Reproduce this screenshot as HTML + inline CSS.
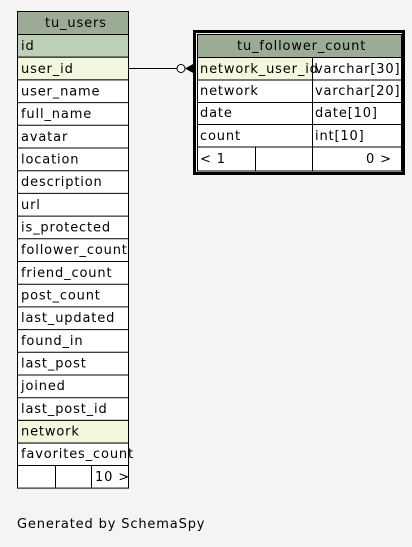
<!DOCTYPE html>
<html><head><style>
html,body{margin:0;padding:0;background:#f4f4f4;}
svg{display:block;}
text{font-family:"DejaVu Sans","Liberation Sans",sans-serif;font-size:13px;fill:#000;letter-spacing:0.85px;}
</style></head><body>
<svg width="412" height="547" viewBox="0 0 412 547" xmlns="http://www.w3.org/2000/svg">
<rect x="0" y="0" width="412" height="547" fill="#f4f4f4"/>
<g stroke="#000" stroke-width="1">
<rect x="17.5" y="11.5" width="111" height="23" fill="#9bab96"/>
<rect x="17.5" y="34.5" width="111" height="22.7" fill="#bed1b8"/>
<rect x="17.5" y="57.2" width="111" height="22.7" fill="#f4f7de"/>
<rect x="17.5" y="79.9" width="111" height="340.5" fill="#ffffff"/>
<rect x="17.5" y="420.4" width="111" height="22.7" fill="#f4f7de"/>
<rect x="17.5" y="443.1" width="111" height="45" fill="#ffffff"/>
</g>
<g stroke="#000" stroke-width="1">
<line x1="17" y1="102.6" x2="128" y2="102.6"/>
<line x1="17" y1="125.3" x2="128" y2="125.3"/>
<line x1="17" y1="148" x2="128" y2="148"/>
<line x1="17" y1="170.7" x2="128" y2="170.7"/>
<line x1="17" y1="193.4" x2="128" y2="193.4"/>
<line x1="17" y1="216.1" x2="128" y2="216.1"/>
<line x1="17" y1="238.8" x2="128" y2="238.8"/>
<line x1="17" y1="261.5" x2="128" y2="261.5"/>
<line x1="17" y1="284.2" x2="128" y2="284.2"/>
<line x1="17" y1="306.9" x2="128" y2="306.9"/>
<line x1="17" y1="329.6" x2="128" y2="329.6"/>
<line x1="17" y1="352.3" x2="128" y2="352.3"/>
<line x1="17" y1="375" x2="128" y2="375"/>
<line x1="17" y1="397.7" x2="128" y2="397.7"/>
<line x1="17" y1="465.5" x2="128" y2="465.5"/>
<line x1="55.5" y1="465.5" x2="55.5" y2="488"/>
<line x1="91.5" y1="465.5" x2="91.5" y2="488"/>
</g>
<text x="45" y="27">tu_users</text>
<text x="21" y="50">id</text>
<text x="21" y="73">user_id</text>
<text x="21" y="95.5">user_name</text>
<text x="21" y="118">full_name</text>
<text x="21" y="141">avatar</text>
<text x="21" y="163.5">location</text>
<text x="21" y="186">description</text>
<text x="21" y="209">url</text>
<text x="21" y="231.5">is_protected</text>
<text x="21" y="254">follower_count</text>
<text x="21" y="277">friend_count</text>
<text x="21" y="299.5">post_count</text>
<text x="21" y="322">last_updated</text>
<text x="21" y="345">found_in</text>
<text x="21" y="367.5">last_post</text>
<text x="21" y="390">joined</text>
<text x="21" y="413">last_post_id</text>
<text x="21" y="435.5">network</text>
<text x="21" y="458">favorites_count</text>
<text x="95" y="481">10 &gt;</text>
<line x1="128" y1="68.5" x2="177" y2="68.5" stroke="#000" stroke-width="1"/>
<circle cx="181" cy="68.5" r="4" fill="#fff" stroke="#000" stroke-width="1"/>
<polygon points="185,68.5 194,63.5 194,73.5" fill="#000"/>
<rect x="194.5" y="31.5" width="209" height="142" fill="none" stroke="#000" stroke-width="3"/>
<g stroke="#000" stroke-width="1">
<rect x="197.5" y="34.5" width="204" height="23" fill="#9bab96"/>
<rect x="197.5" y="57.5" width="115" height="22.5" fill="#f4f7de"/>
<rect x="312.5" y="57.5" width="89" height="22.5" fill="#ffffff"/>
<rect x="197.5" y="80" width="204" height="91" fill="#ffffff"/>
<line x1="197" y1="102.5" x2="401" y2="102.5"/>
<line x1="197" y1="124.5" x2="401" y2="124.5"/>
<line x1="197" y1="147" x2="401" y2="147"/>
<line x1="312.5" y1="80" x2="312.5" y2="171"/>
<line x1="255.5" y1="147" x2="255.5" y2="171"/>
</g>
<text x="237" y="50">tu_follower_count</text>
<text x="200" y="73">network_user_id</text>
<text x="315" y="73">varchar[30]</text>
<text x="200" y="95">network</text>
<text x="315" y="95">varchar[20]</text>
<text x="200" y="117">date</text>
<text x="315" y="117">date[10]</text>
<text x="200" y="140">count</text>
<text x="315" y="140">int[10]</text>
<text x="200" y="163">&lt; 1</text>
<text x="366" y="163">0 &gt;</text>
<text x="17" y="528">Generated by SchemaSpy</text>
</svg>
</body></html>
